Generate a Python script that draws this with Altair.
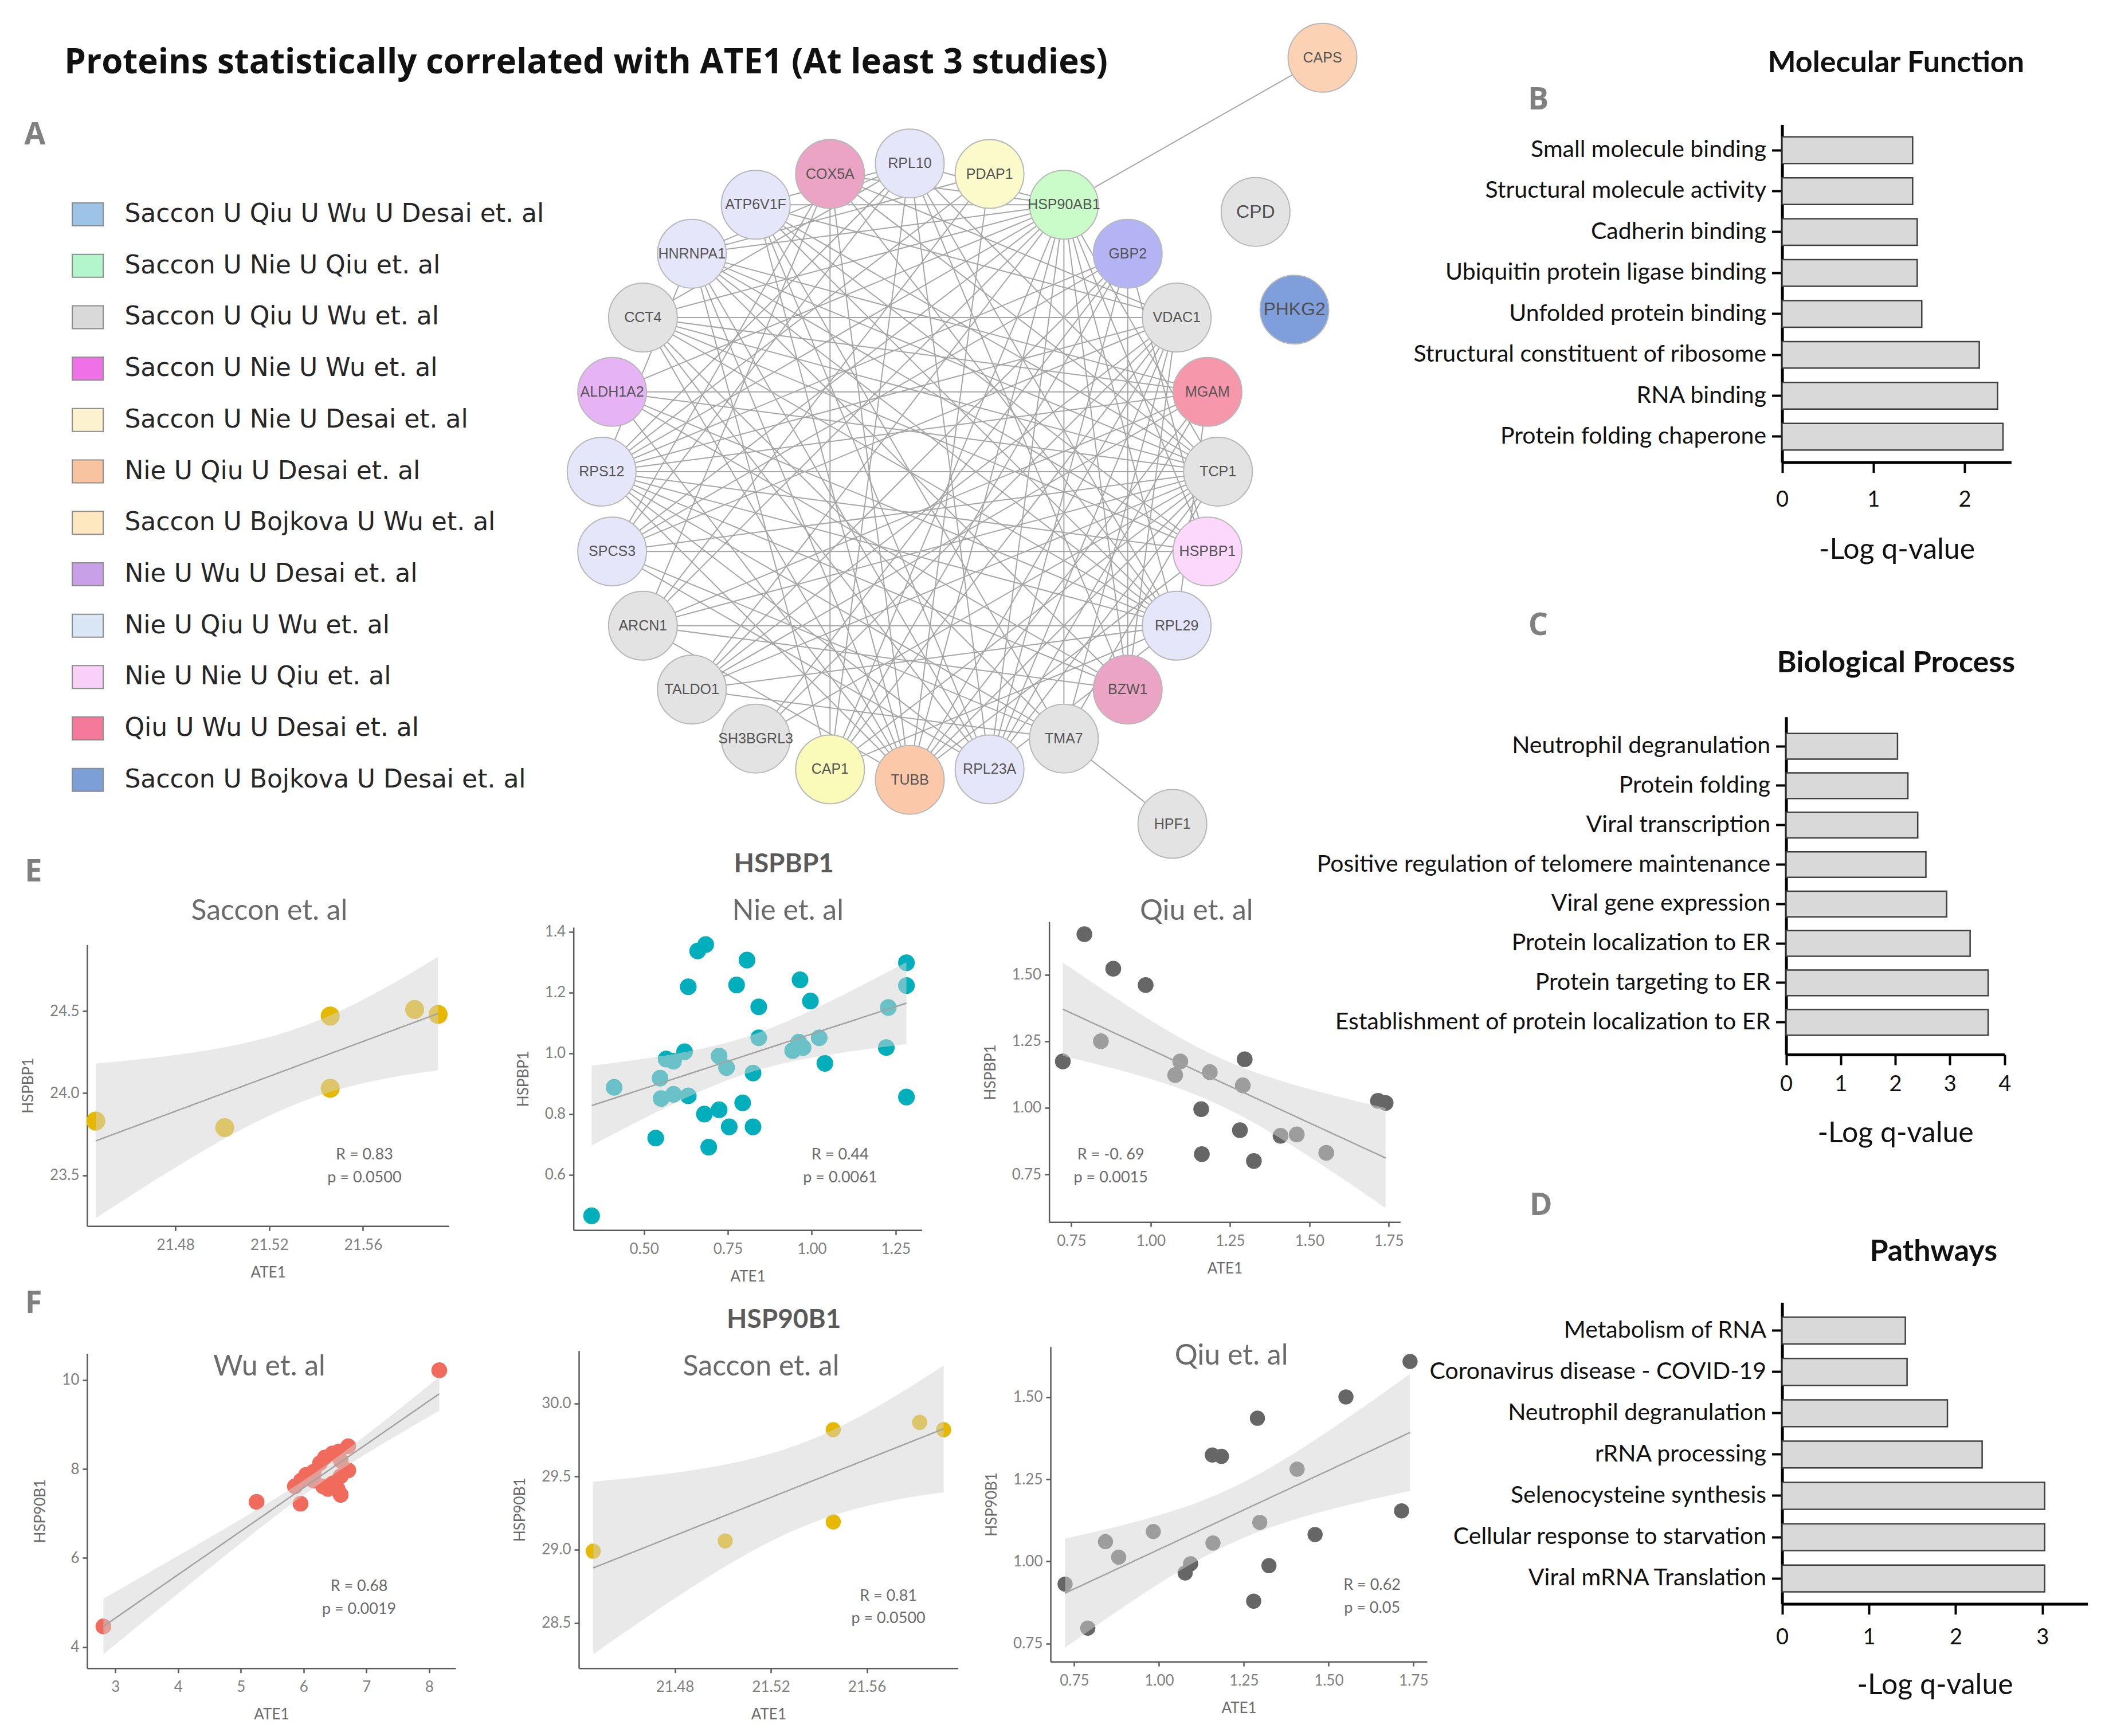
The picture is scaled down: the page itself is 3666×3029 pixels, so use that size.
import altair as alt
import numpy as np
import pandas as pd

# ---------------- layout helpers ----------------
S = 3666 / 1568.0          # reference units -> pixels
W, H = 3650, 3013

def P(v):
    return v * S - 8

# ---------------- data ----------------
legend_labels = [
    "Saccon U Qiu U Wu U Desai et. al",
    "Saccon U Nie U Qiu et. al",
    "Saccon U Qiu U Wu et. al",
    "Saccon U Nie U Wu et. al",
    "Saccon U Nie U Desai et. al",
    "Nie U Qiu U Desai et. al",
    "Saccon U Bojkova U Wu et. al",
    "Nie U Wu U Desai et. al",
    "Nie U Qiu U Wu et. al",
    "Nie U Nie U Qiu et. al",
    "Qiu U Wu U Desai et. al",
    "Saccon U Bojkova U Desai et. al",
]
legend_colors = ["#9dc3e6", "#b3f5cc", "#d9d9d9", "#f070e8", "#fdf2d0", "#f8c4a0",
                 "#fde8c0", "#c8a0e8", "#d8e6f5", "#f8d0f8", "#f4799a", "#7d9fd8"]

ring_nodes = ["RPL10", "PDAP1", "HSP90AB1", "GBP2", "VDAC1", "MGAM", "TCP1", "HSPBP1",
              "RPL29", "BZW1", "TMA7", "RPL23A", "TUBB", "CAP1", "SH3BGRL3", "TALDO1",
              "ARCN1", "SPCS3", "RPS12", "ALDH1A2", "CCT4", "HNRNPA1", "ATP6V1F", "COX5A"]
ring_colors = ["#e6e6fa", "#fafacb", "#c9fcc9", "#b4b4f5", "#e3e3e3", "#f797ac", "#e3e3e3", "#fcd9fc",
               "#e6e6fa", "#eba4c4", "#e3e3e3", "#e6e6fa", "#fcc8aa", "#fafab9", "#e3e3e3", "#e3e3e3",
               "#e3e3e3", "#e6e6fa", "#e6e6fa", "#e6b4f5", "#e3e3e3", "#e6e6fa", "#e6e6fa", "#eba4c4"]
outer_nodes = ["CAPS", "CPD", "PHKG2", "HPF1"]
outer_x = [1.339, 1.122, 1.248, 0.852]
outer_y = [1.343, 0.843, 0.526, -1.143]
outer_colors = ["#fcd2b4", "#e3e3e3", "#7f9fdc", "#e3e3e3"]

edges = [
    ("HSP90AB1", "COX5A"), ("HSP90AB1", "ATP6V1F"), ("HSP90AB1", "HNRNPA1"), ("HSP90AB1", "CCT4"),
    ("HSP90AB1", "ALDH1A2"), ("HSP90AB1", "RPS12"), ("HSP90AB1", "SPCS3"), ("HSP90AB1", "ARCN1"),
    ("HSP90AB1", "TALDO1"), ("HSP90AB1", "CAP1"), ("HSP90AB1", "TUBB"),
    ("HSP90AB1", "RPL23A"), ("HSP90AB1", "TMA7"), ("HSP90AB1", "BZW1"), ("HSP90AB1", "RPL29"),
    ("HSP90AB1", "HSPBP1"), ("HSP90AB1", "TCP1"), ("HSP90AB1", "RPL10"), ("HSP90AB1", "CAPS"),
    ("RPL10", "ATP6V1F"), ("RPL10", "HNRNPA1"), ("RPL10", "CCT4"), ("RPL10", "RPS12"),
    ("RPL10", "SPCS3"), ("RPL10", "RPL23A"), ("RPL10", "RPL29"),
    ("RPL10", "TCP1"), ("RPL10", "CAP1"), ("RPL10", "BZW1"),
    ("PDAP1", "RPS12"), ("PDAP1", "ARCN1"), ("PDAP1", "TUBB"), ("PDAP1", "HNRNPA1"),
    ("COX5A", "TUBB"), ("COX5A", "CAP1"), ("COX5A", "TCP1"),
    ("COX5A", "ARCN1"), ("COX5A", "VDAC1"), ("COX5A", "RPL29"), ("COX5A", "SPCS3"),
    ("ATP6V1F", "TUBB"), ("ATP6V1F", "RPL23A"), ("ATP6V1F", "RPL29"), ("ATP6V1F", "TMA7"),
    ("ATP6V1F", "TCP1"), ("ATP6V1F", "VDAC1"), ("ATP6V1F", "HSPBP1"),
    ("HNRNPA1", "RPS12"), ("HNRNPA1", "TUBB"), ("HNRNPA1", "RPL23A"), ("HNRNPA1", "TCP1"),
    ("HNRNPA1", "HSPBP1"), ("HNRNPA1", "RPL29"), ("HNRNPA1", "MGAM"), ("HNRNPA1", "BZW1"),
    ("HNRNPA1", "CAP1"),
    ("CCT4", "VDAC1"), ("CCT4", "TCP1"), ("CCT4", "TUBB"), ("CCT4", "RPL23A"),
    ("CCT4", "HSPBP1"), ("CCT4", "MGAM"), ("CCT4", "TMA7"), ("CCT4", "RPL29"),
    ("ALDH1A2", "TCP1"), ("ALDH1A2", "RPL29"), ("ALDH1A2", "TUBB"), ("ALDH1A2", "MGAM"),
    ("ALDH1A2", "BZW1"),
    ("RPS12", "TCP1"), ("RPS12", "RPL29"), ("RPS12", "RPL23A"), ("RPS12", "HSPBP1"),
    ("RPS12", "MGAM"), ("RPS12", "VDAC1"), ("RPS12", "GBP2"), ("RPS12", "BZW1"),
    ("RPS12", "TMA7"), ("RPS12", "TUBB"),
    ("SPCS3", "TCP1"), ("SPCS3", "RPL23A"), ("SPCS3", "HSPBP1"),
    ("SPCS3", "VDAC1"), ("SPCS3", "TMA7"), ("SPCS3", "GBP2"),
    ("ARCN1", "RPL29"), ("ARCN1", "TCP1"), ("ARCN1", "MGAM"),
    ("ARCN1", "TUBB"), ("ARCN1", "BZW1"),
    ("TALDO1", "TCP1"), ("TALDO1", "VDAC1"), ("TALDO1", "RPL29"), ("TALDO1", "GBP2"),
    ("TALDO1", "MGAM"), ("TALDO1", "TMA7"),
    ("SH3BGRL3", "VDAC1"), ("SH3BGRL3", "TCP1"), ("SH3BGRL3", "GBP2"),
    ("CAP1", "TCP1"), ("CAP1", "VDAC1"), ("CAP1", "GBP2"), ("CAP1", "RPL29"),
    ("TUBB", "TCP1"), ("TUBB", "VDAC1"), ("TUBB", "MGAM"), ("TUBB", "HSPBP1"),
    ("RPL23A", "TCP1"), ("RPL23A", "RPL29"), ("RPL23A", "VDAC1"), ("RPL23A", "MGAM"),
    ("RPL23A", "GBP2"),
    ("TMA7", "HPF1"), ("TMA7", "TCP1"), ("TMA7", "VDAC1"),
    ("BZW1", "VDAC1"), ("BZW1", "GBP2"),
    ("RPL29", "MGAM"), ("HSPBP1", "GBP2"),
]

mf_terms = ["Small molecule binding", "Structural molecule activity", "Cadherin binding",
            "Ubiquitin protein ligase binding", "Unfolded protein binding",
            "Structural constituent of ribosome", "RNA binding", "Protein folding chaperone"]
mf_vals = [1.43, 1.43, 1.48, 1.48, 1.53, 2.16, 2.36, 2.42]
bp_terms = ["Neutrophil degranulation", "Protein folding", "Viral transcription",
            "Positive regulation of telomere maintenance", "Viral gene expression",
            "Protein localization to ER", "Protein targeting to ER",
            "Establishment of protein localization to ER"]
bp_vals = [2.04, 2.23, 2.41, 2.56, 2.94, 3.37, 3.70, 3.70]
pw_terms = ["Metabolism of RNA", "Coronavirus disease - COVID-19", "Neutrophil degranulation",
            "rRNA processing", "Selenocysteine synthesis", "Cellular response to starvation",
            "Viral mRNA Translation"]
pw_vals = [1.42, 1.44, 1.905, 2.305, 3.025, 3.025, 3.025]

saccon_ate1 = [21.446, 21.501, 21.546, 21.546, 21.582, 21.592]
saccon_hspbp1 = [23.83, 23.79, 24.47, 24.03, 24.51, 24.48]
saccon_hsp90b1 = [28.99, 29.06, 29.82, 29.19, 29.87, 29.82]

nie_ate1 = [0.344, 0.411, 0.535, 0.548, 0.551, 0.566, 0.588, 0.588, 0.621, 0.632, 0.632, 0.660,
            0.684, 0.680, 0.693, 0.724, 0.724, 0.746, 0.754, 0.776, 0.794, 0.807, 0.825, 0.825,
            0.842, 0.842, 0.943, 0.961, 0.965, 0.974, 0.996, 1.022, 1.039, 1.222, 1.228, 1.282,
            1.282, 1.282]
nie_hspbp1 = [0.465, 0.888, 0.721, 0.918, 0.851, 0.981, 0.974, 0.865, 1.005, 0.860, 1.219, 1.337,
              1.358, 0.800, 0.691, 0.814, 0.991, 0.953, 0.758, 1.225, 0.837, 1.307, 0.935, 0.758,
              1.153, 1.051, 1.009, 1.037, 1.242, 1.019, 1.172, 1.051, 0.967, 1.019, 1.151, 1.298,
              1.223, 0.856]

qiu1_ate1 = [0.723, 0.791, 0.843, 0.882, 0.984, 1.077, 1.093, 1.159, 1.161, 1.186, 1.281, 1.290,
             1.296, 1.325, 1.409, 1.460, 1.553, 1.716, 1.740]
qiu_hspbp1 = [1.174, 1.652, 1.250, 1.522, 1.461, 1.123, 1.174, 0.995, 0.826, 1.134, 0.916, 1.084,
              1.182, 0.800, 0.895, 0.900, 0.831, 1.026, 1.018]

wu_ate1 = [2.81, 5.25, 5.95, 5.86, 5.96, 6.04, 6.16, 6.26, 6.34, 6.46, 6.56, 6.71, 6.59, 6.71,
           6.59, 6.46, 6.31, 6.39, 6.54, 6.59, 6.16, 8.16]
wu_hsp90b1 = [4.46, 7.26, 7.22, 7.61, 7.74, 7.87, 7.94, 8.13, 8.26, 8.35, 8.39, 8.51, 8.19, 7.97,
              7.84, 7.68, 7.61, 7.55, 7.55, 7.42, 7.74, 10.22]

qiu2_ate1 = [0.723, 0.790, 0.842, 0.881, 0.983, 1.077, 1.093, 1.157, 1.184, 1.159, 1.279, 1.290,
             1.297, 1.324, 1.407, 1.460, 1.551, 1.715, 1.740]
qiu_hsp90b1 = [0.931, 0.797, 1.060, 1.013, 1.091, 0.965, 0.993, 1.324, 1.320, 1.056, 0.879, 1.436,
               1.119, 0.987, 1.281, 1.082, 1.501, 1.154, 1.609]

stat_r = ["R = 0.83", "R = 0.44", "R = -0. 69", "R = 0.68", "R = 0.81", "R = 0.62"]
stat_p = ["p = 0.0500", "p = 0.0061", "p = 0.0015", "p = 0.0019", "p = 0.0500", "p = 0.05"]

main_title = "Proteins statistically correlated with ATE1 (At least 3 studies)"
panel_letters = ["A", "B", "C", "D", "E", "F"]
bar_titles = ["Molecular Function", "Biological Process", "Pathways"]
gene_titles = ["HSPBP1", "HSP90B1"]
study_titles = ["Saccon et. al", "Nie et. al", "Qiu et. al", "Wu et. al", "Saccon et. al", "Qiu et. al"]

T_975 = {4: 2.776, 17: 2.110, 20: 2.086, 36: 2.028}

# ---------------- text helper ----------------
def text_layer(texts, xs, ys, font, size, weight, color, align="center"):
    df = pd.DataFrame({"t": texts, "px": [P(v) for v in xs], "py": [P(v) for v in ys]})
    return alt.Chart(df).mark_text(font=font, fontSize=size, fontWeight=weight, color=color,
                                   align=align, baseline="middle").encode(
        x=alt.X("px:Q", scale=None, axis=None),
        y=alt.Y("py:Q", scale=None, axis=None),
        text="t:N")

# ---------------- scatter panels ----------------
SC_AX = dict(grid=False, domainColor="#5a5a5a", domainWidth=2.5, tickColor="#5a5a5a",
             tickWidth=2.5, tickSize=8, labelFont="Lato", labelFontSize=26, labelColor="#808080",
             titleFont="Lato", titleFontSize=26, titleFontWeight="normal", titleColor="#6b6b6b",
             labelFlush=False)

def scatter(xs, ys, color, size, xdom, xr, ydom, yr, xticks, xfmt, yticks, yfmt, ytitle):
    xa = np.array(xs, dtype=float)
    ya = np.array(ys, dtype=float)
    n = len(xa)
    b, a = np.polyfit(xa, ya, 1)
    grid = np.linspace(xa.min(), xa.max(), 80)
    fit = a + b * grid
    s = np.sqrt(((ya - (a + b * xa)) ** 2).sum() / (n - 2))
    sxx = ((xa - xa.mean()) ** 2).sum()
    se = s * np.sqrt(1.0 / n + (grid - xa.mean()) ** 2 / sxx)
    t = T_975.get(n - 2, 2.0)
    bd = pd.DataFrame({"x": grid, "fit": fit, "lo": fit - t * se, "hi": fit + t * se})
    df = pd.DataFrame({"x": xa, "y": ya})

    xsc = alt.Scale(domain=list(xdom), range=[P(xr[0]), P(xr[1])], nice=False, zero=False)
    ysc = alt.Scale(domain=list(ydom), range=[P(yr[1]), P(yr[0])], nice=False, zero=False)
    xax = alt.Axis(title="ATE1", orient="bottom", offset=P(yr[1]) - H, values=xticks, format=xfmt,
                   labelPadding=12, titlePadding=22, **SC_AX)
    yax = alt.Axis(title=ytitle, orient="left", offset=-P(xr[0]), values=yticks, format=yfmt,
                   labelPadding=6, titlePadding=24, **SC_AX)
    X = alt.X("x:Q", scale=xsc, axis=xax)
    pts = alt.Chart(df).mark_circle(size=size, color=color, opacity=1).encode(
        x=X, y=alt.Y("y:Q", scale=ysc, axis=yax))
    band = alt.Chart(bd).mark_area(color="#d4d4d4", opacity=0.5).encode(
        x=X, y=alt.Y("lo:Q", scale=ysc, axis=yax), y2="hi:Q")
    line = alt.Chart(bd).mark_line(color="#a3a3a3", strokeWidth=2.5).encode(
        x=X, y=alt.Y("fit:Q", scale=ysc, axis=yax))
    return alt.layer(pts, band, line)

QIU_C = "#666666"
e1 = scatter(saccon_ate1, saccon_hspbp1, "#E7B800", 1100, (21.4423, 21.5966), (65, 335),
             (23.19, 24.905), (705, 915), [21.48, 21.52, 21.56], ".2f", [23.5, 24.0, 24.5], ".1f", "HSPBP1")
e2 = scatter(nie_ate1, nie_hspbp1, "#00AFBB", 850, (0.29, 1.328), (428, 688),
             (0.418, 1.415), (692, 918), [0.5, 0.75, 1.0, 1.25], ".2f", [0.6, 0.8, 1.0, 1.2, 1.4], ".1f", "HSPBP1")
e3 = scatter(qiu1_ate1, qiu_hspbp1, QIU_C, 760, (0.68, 1.786), (783, 1045),
             (0.571, 1.698), (688, 912), [0.75, 1.0, 1.25, 1.5, 1.75], ".2f", [0.75, 1.0, 1.25, 1.5], ".2f", "HSPBP1")
f1 = scatter(wu_ate1, wu_hsp90b1, "#F06B5B", 760, (2.55, 8.42), (65, 340),
             (3.52, 10.6), (1010, 1245), [3, 4, 5, 6, 7, 8], "d", [4, 6, 8, 10], "d", "HSP90B1")
f2 = scatter(saccon_ate1, saccon_hsp90b1, "#E7B800", 700, (21.44, 21.598), (432, 715),
             (28.19, 30.36), (1008, 1245), [21.48, 21.52, 21.56], ".2f", [28.5, 29.0, 29.5, 30.0], ".1f", "HSP90B1")
f3 = scatter(qiu2_ate1, qiu_hsp90b1, QIU_C, 700, (0.68, 1.79), (784, 1065),
             (0.695, 1.654), (1005, 1240), [0.75, 1.0, 1.25, 1.5, 1.75], ".2f", [0.75, 1.0, 1.25, 1.5], ".2f", "HSP90B1")

# ---------------- bar panels ----------------
def bars(terms, vals, xdom, xr, yr, pad_out, align, xticks, lab_pad, title_pad):
    df = pd.DataFrame({"term": terms, "v": vals})
    xsc = alt.Scale(domain=list(xdom), range=[P(xr[0]), P(xr[1])], nice=False, zero=True)
    ysc = alt.Scale(domain=terms, range=[P(yr[0]), P(yr[1])], paddingInner=0.35,
                    paddingOuter=pad_out, align=align)
    xax = alt.Axis(title="-Log q-value", orient="bottom", offset=P(yr[1]) - H, values=xticks,
                   format="d", grid=False, domainColor="#000000", domainWidth=5,
                   tickColor="#000000", tickWidth=4, tickSize=18, labelFont="Lato",
                   labelFontSize=38, labelColor="#111111", labelPadding=lab_pad, labelFlush=False,
                   titleFont="Lato", titleFontSize=50, titleFontWeight="normal",
                   titleColor="#111111", titlePadding=title_pad)
    yax = alt.Axis(title=None, orient="left", offset=-P(xr[0]), grid=False,
                   domainColor="#000000", domainWidth=5, tickColor="#000000", tickWidth=4,
                   tickSize=18, labelFont="Lato", labelFontSize=41, labelColor="#111111",
                   labelPadding=10, labelLimit=2000)
    return alt.Chart(df).mark_bar(fill="#d9d9d9", stroke="#404040", strokeWidth=2.5).encode(
        x=alt.X("v:Q", scale=xsc, axis=xax),
        y=alt.Y("term:N", scale=ysc, axis=yax, sort=terms))

pb = bars(mf_terms, mf_vals, (0, 2.51), (1330, 1501), (93, 345), 0.3, 0.5, [0, 1, 2], 29, 43)
pc = bars(bp_terms, bp_vals, (0, 4), (1333, 1496), (535, 787), 0.456, 0.46, [0, 1, 2, 3, 4], 15, 41)
pd_ = bars(pw_terms, pw_vals, (0, 3.52), (1330, 1558), (972, 1197), 0.324, 0.55, [0, 1, 2, 3], 22, 39)

# ---------------- network ----------------
ang = np.deg2rad(90 - 15 * np.arange(len(ring_nodes)))
nodes = pd.DataFrame({
    "name": ring_nodes + outer_nodes,
    "x": list(np.cos(ang)) + outer_x,
    "y": list(np.sin(ang)) + outer_y,
    "c": ring_colors + outer_colors,
})
pos = {r.name: (r.x, r.y) for r in nodes.itertuples()}
edf = pd.DataFrame({
    "x1": [pos[a][0] for a, b in edges], "y1": [pos[a][1] for a, b in edges],
    "x2": [pos[b][0] for a, b in edges], "y2": [pos[b][1] for a, b in edges],
})
nsx = alt.Scale(domain=[-1, 1], range=[P(449), P(909)], nice=False, zero=False)
nsy = alt.Scale(domain=[-1, 1], range=[P(582), P(122)], nice=False, zero=False)
NX = alt.X("x:Q", scale=nsx, axis=None)
NY = alt.Y("y:Q", scale=nsy, axis=None)
edge_layer = alt.Chart(edf).mark_rule(color="#a6a6a6", strokeWidth=2).encode(
    x=alt.X("x1:Q", scale=nsx, axis=None), y=alt.Y("y1:Q", scale=nsy, axis=None),
    x2="x2:Q", y2="y2:Q")
node_layer = alt.Chart(nodes).mark_circle(size=14400, opacity=1, stroke="#b8b8b8",
                                          strokeWidth=2).encode(
    x=NX, y=NY, fill=alt.Fill("c:N", scale=None))
big = ["CPD", "PHKG2"]
lab_small = alt.Chart(nodes[~nodes.name.isin(big)]).mark_text(
    font="Liberation Sans", fontSize=25, color="#555555").encode(x=NX, y=NY, text="name:N")
lab_big = alt.Chart(nodes[nodes.name.isin(big)]).mark_text(
    font="Liberation Sans", fontSize=32, color="#505050").encode(x=NX, y=NY, text="name:N")
network = alt.layer(edge_layer, node_layer, lab_small, lab_big)

# ---------------- legend ----------------
ldf = pd.DataFrame({"label": legend_labels, "c": legend_colors})
lsy = alt.Scale(type="point", domain=legend_labels, range=[P(160), P(582)], padding=0)
sw = alt.Chart(ldf).mark_point(shape="M -1.35 -1 L 1.35 -1 L 1.35 1 L -1.35 1 Z", size=1600,
                               filled=True, opacity=1, stroke="#8c8c8c", strokeWidth=2).encode(
    x=alt.value(P(65.5)), y=alt.Y("label:N", scale=lsy, axis=None),
    fill=alt.Fill("c:N", scale=None))
lt = alt.Chart(ldf).mark_text(align="left", baseline="middle", font="DejaVu Sans",
                              fontSize=44, color="#262626").encode(
    x=alt.value(P(93)), y=alt.Y("label:N", scale=lsy, axis=None), text="label:N")
legend = alt.layer(sw, lt)

# ---------------- annotations ----------------
t_main = text_layer([main_title], [48], [47], "Open Sans", 60, "bold", "#111111", align="left")
t_let = text_layer(panel_letters, [26, 1148, 1148, 1150, 25, 25], [101, 75, 467, 900, 651, 973],
                   "Open Sans", 54, "bold", "#808080")
t_bar = text_layer(bar_titles, [1415, 1415, 1443], [47, 495, 934], "Lato", 52, "bold", "#111111")
t_gene = text_layer(gene_titles, [585, 585], [645, 985], "Lato", 46, "bold", "#5a5a5a")
t_study = text_layer(study_titles, [201, 588, 893, 201, 568, 919],
                     [680, 680, 680, 1020, 1020, 1012], "Lato", 50, "normal", "#6b6b6b")
t_r = text_layer(stat_r, [272, 627, 829, 268, 663, 1024], [862, 862, 862, 1184, 1191, 1183],
                 "Lato", 27, "normal", "#6b6b6b")
t_p = text_layer(stat_p, [272, 627, 829, 268, 663, 1024], [879, 879, 879, 1201, 1208, 1200],
                 "Lato", 27, "normal", "#6b6b6b")

chart = alt.layer(
    legend, network, e1, e2, e3, f1, f2, f3, pb, pc, pd_,
    t_main, t_let, t_bar, t_gene, t_study, t_r, t_p,
).resolve_scale(
    x="independent", y="independent"
).resolve_axis(
    x="independent", y="independent"
).properties(
    width=W, height=H, padding=0, autosize=alt.AutoSizeParams(type="none")
).configure_view(stroke=None)

chart.save("out.html", embed_options={"renderer": "svg", "actions": False})
